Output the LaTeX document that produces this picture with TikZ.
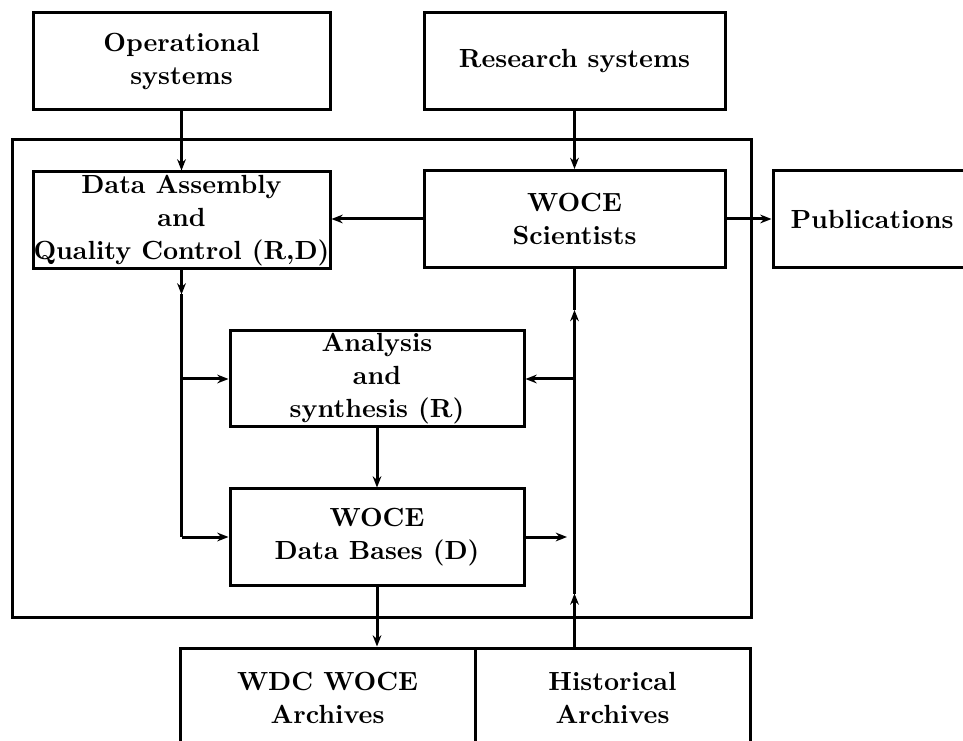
\documentclass[tikz,border=0pt]{standalone}
\usepackage{tikz}
\usetikzlibrary{arrows,arrows.meta,positioning}

\begin{document}
\begin{tikzpicture}[%
    >={Stealth[length=4.5pt,width=3.5pt]},
    node distance=2cm,
    on grid,
    line width=1.2pt,
    block/.style={draw, rectangle, align=center, inner xsep=0pt, inner ysep=1pt,
      minimum width=118.8pt, minimum height=38.8pt,
      font=\fontsize{10.5}{13.2}\selectfont\bfseries},
    wideblock/.style={block, minimum width=120.4pt}
  ]
  \useasboundingbox (0,0) rectangle (385.2pt,-296.4pt);
  \clip (0,0) rectangle (385.2pt,-296.4pt);

  % top row
  \node[block] (oper) at (72.6pt,-24.4pt) {Operational\\systems};
  \node[wideblock] (research) [right=157.2pt of oper] {Research systems};

  % inside the frame
  \node[block] (assembly) [below=63.8pt of oper] {Data Assembly\\and\\Quality Control (R,D)};
  \node[wideblock] (scientists) [below=63.2pt of research] {WOCE\\Scientists};
  \node[block, minimum width=79.2pt] (publ) [right=119pt of scientists] {Publications};
  \node[block, minimum width=117.6pt, minimum height=38.4pt] (analysis)
    [below right=63.4pt and 78.2pt of assembly] {Analysis\\and\\synthesis (R)};
  \node[block, minimum width=117.6pt, minimum height=38.4pt] (bases)
    [below=63.2pt of analysis] {WOCE\\Data Bases (D)};

  % archives
  \node[block, minimum width=118pt, minimum height=40pt] (wdc)
    [below left=64.4pt and 19.8pt of bases] {WDC WOCE\\Archives};
  \node[block, minimum width=110pt, minimum height=40pt] (hist)
    [right=114pt of wdc] {Historical\\Archives};

  \draw (4.8pt,-56pt) rectangle (300.4pt,-246.8pt);

  \path[->] (oper) edge (assembly);
  \path[->] (research) edge (scientists);
  \draw[->] (scientists.west) -- (scientists.west -| assembly.east);
  \draw[->] (scientists.east) -- (scientists.east -| publ.west);
  \path[->] (analysis) edge (bases);
  \draw[->] (bases.south) -- (bases.south |- wdc.north);

  % left trunk
  \coordinate[below=9.6pt of assembly.south] (lmid);
  \draw[->] (assembly.south) -- (lmid);
  \draw (lmid) -- (assembly.south |- bases.west);
  \draw[->] (assembly.south |- analysis.west) -- (analysis.west);
  \draw[->] (assembly.south |- bases.west) -- (bases.west);

  % right trunk
  \coordinate (rbot) at (scientists.south |- hist.north);
  \coordinate[above=21.2pt of rbot] (rlow);
  \coordinate[below=16.4pt of scientists.south] (rhigh);
  \draw[->] (rbot) -- (rlow);
  \draw[->] (rlow) -- (rhigh);
  \draw (rhigh) -- (scientists.south);
  \draw[->] (scientists.south |- analysis.east) -- (analysis.east);
  \draw[->, shorten >=3pt] (bases.east) -- (scientists.south |- bases.east);

\end{tikzpicture}
\end{document}
